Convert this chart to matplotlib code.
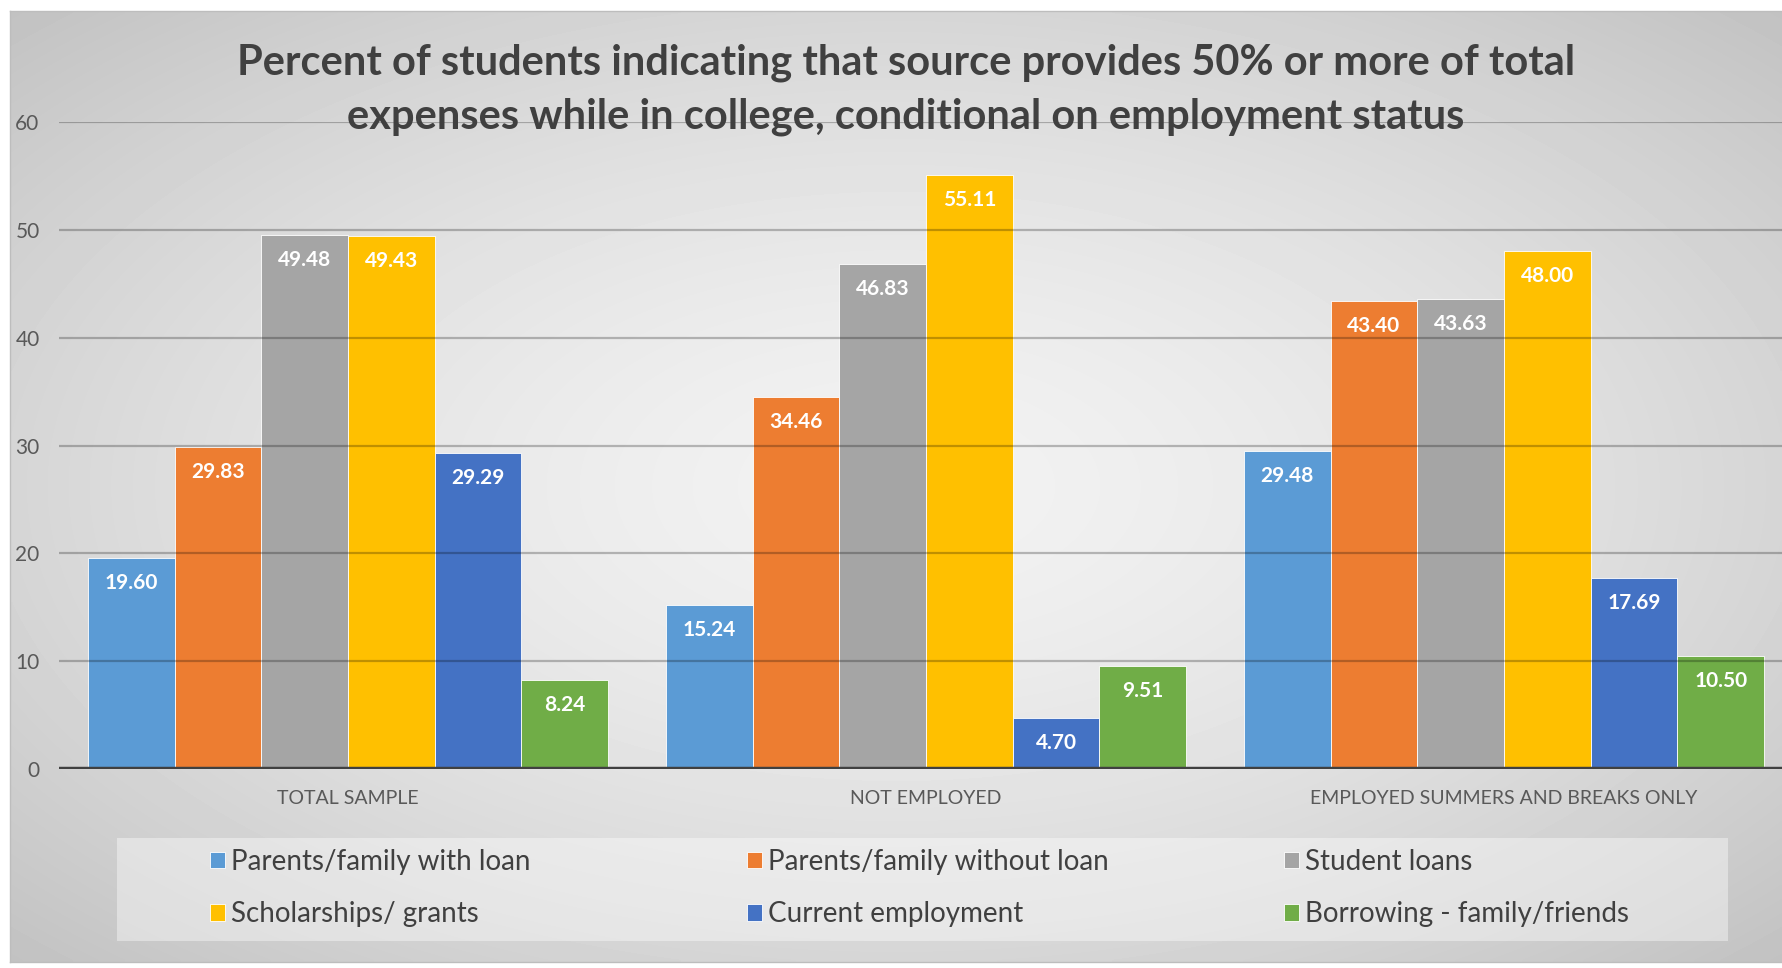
import matplotlib.pyplot as plt
from matplotlib.patches import Rectangle
import numpy as np

categories = ["TOTAL SAMPLE", "NOT EMPLOYED", "EMPLOYED SUMMERS AND BREAKS ONLY"]
series_names = [
    "Parents/family with loan",
    "Parents/family without loan",
    "Student loans",
    "Scholarships/ grants",
    "Current employment",
    "Borrowing - family/friends",
]
parents_with_loan = [19.60, 15.24, 29.48]
parents_without_loan = [29.83, 34.46, 43.40]
student_loans = [49.48, 46.83, 43.63]
scholarships = [49.43, 55.11, 48.00]
current_employment = [29.29, 4.70, 17.69]
borrowing = [8.24, 9.51, 10.50]
series_values = [parents_with_loan, parents_without_loan, student_loans,
                 scholarships, current_employment, borrowing]
colors = ["#5B9BD5", "#ED7D31", "#A5A5A5", "#FFC000", "#4472C4", "#70AD47"]
y_ticks = [0, 10, 20, 30, 40, 50, 60]

title = ("Percent of students indicating that source provides 50% or more of total\n"
         "expenses while in college, conditional on employment status")

plt.rcParams["font.family"] = ["Lato", "DejaVu Sans"]

W, H = 1783, 968
fig = plt.figure(figsize=(W / 100, H / 100), dpi=100)

# radial gradient background of the chart area
bg = fig.add_axes([10 / W, 1 - 962 / H, 1 - 10 / W, (962 - 11) / H], zorder=-10)
gx = np.linspace(-1, 1, 400)
gy = np.linspace(-1, 1, 220)
GX, GY = np.meshgrid(gx, gy)
r = np.clip(np.sqrt(GX ** 2 + GY ** 2) / np.sqrt(2), 0, 1)
shade = 0.95 - 0.19 * r ** 1.5
bg.imshow(shade, cmap="gray", vmin=0, vmax=1, aspect="auto",
          extent=[0, 1, 0, 1], interpolation="bilinear")
bg.set_xticks([])
bg.set_yticks([])
for s in bg.spines.values():
    s.set_color("#bdbdbd")
    s.set_linewidth(1)

ax = fig.add_axes([59 / W, 1 - 769 / H, (1793 - 59) / W, (769 - 122) / H])
ax.set_facecolor("none")

x = np.arange(len(categories))
width = 0.15
bars = []
for i, (name, vals, c) in enumerate(zip(series_names, series_values, colors)):
    b = ax.bar(x + (i - 2.5) * width, vals, width, color=c, label=name,
               edgecolor="white", linewidth=0.6, zorder=1)
    bars.append(b)
    for xi, v in zip(x + (i - 2.5) * width, vals):
        ax.annotate(f"{v:.2f}", (xi, v), xytext=(0, -25), textcoords="offset pixels",
                    ha="center", va="center", color="white", fontsize=15,
                    fontweight="bold", zorder=4)

ax.set_xlim(-0.5, 2.5)
ax.set_ylim(0, 60)
ax.set_yticks(y_ticks)
ax.set_xticks(x)
ax.set_xticklabels(categories)
ax.tick_params(axis="y", length=0, pad=14, labelsize=15, labelcolor="#595959")
ax.tick_params(axis="x", length=0, pad=15, labelsize=14, labelcolor="#595959")
for s in ax.spines.values():
    s.set_visible(False)
ax.set_axisbelow(False)
ax.yaxis.grid(True, color="black", alpha=0.25, linewidth=1.6, zorder=2)
ax.axhline(0, color="#404040", linewidth=3.2, zorder=3)

fig.text(0.508, 1 - 89.5 / H, title, ha="center", va="center", fontsize=30,
         fontweight="bold", color="#404040", linespacing=1.51)

# legend panel
fig.patches.append(Rectangle((117 / W, 1 - 941 / H), (1728 - 117) / W, (941 - 838) / H,
                             transform=fig.transFigure, facecolor="white", alpha=0.4,
                             edgecolor="none", zorder=0))
col_x = [210, 747, 1284]
for k in range(3):
    hs = [bars[k][0], bars[k + 3][0]]
    ls = [series_names[k], series_names[k + 3]]
    fig.legend(hs, ls, loc="center left", bbox_to_anchor=(col_x[k] / W, 1 - 888 / H),
               frameon=False, borderpad=0, borderaxespad=0, handlelength=0.55,
               handleheight=0.55, handletextpad=0.22, labelspacing=0.95,
               fontsize=20, labelcolor="#404040")

fig.savefig("out.png", dpi=100)
